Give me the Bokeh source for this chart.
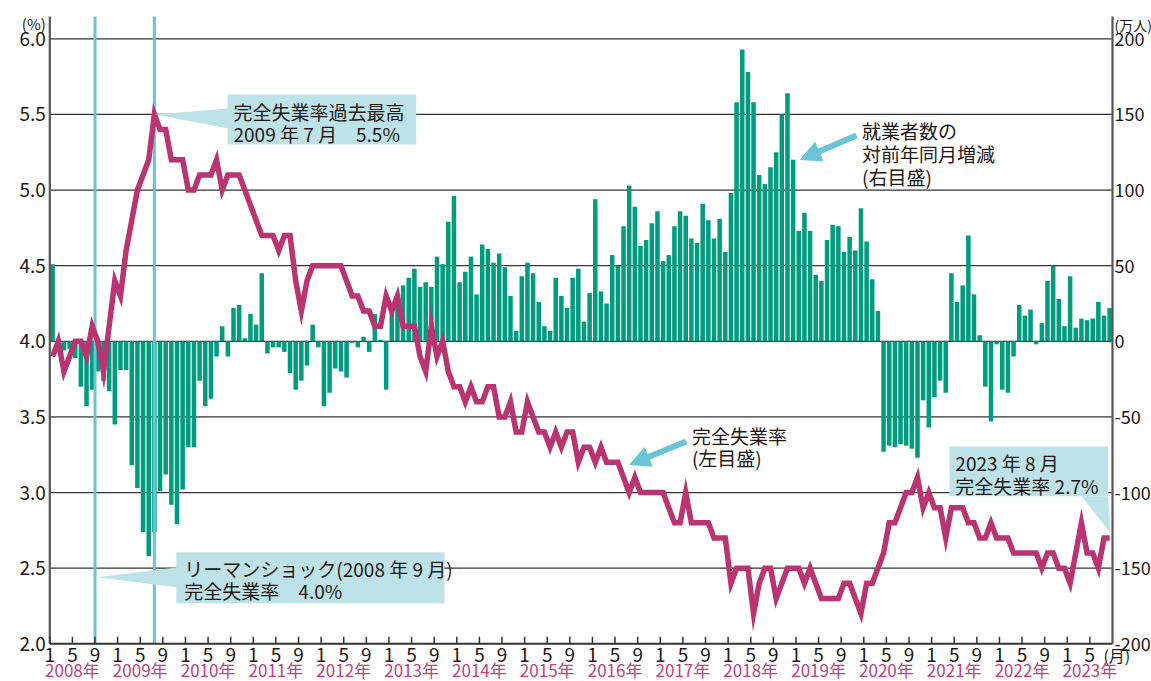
import numpy as np
from bokeh.plotting import figure
from bokeh.models import (Range1d, Label, Arrow, NormalHead, BoxAnnotation, PolyAnnotation)
from bokeh.core.properties import value
from bokeh.embed import file_html
from bokeh.resources import INLINE

# ---------------- data (Jan 2008 .. Aug 2023, monthly) ----------------
years = list(range(2008, 2024))
month_tick_labels = ["1", "5", "9"]
left_ticks = [2.0, 2.5, 3.0, 3.5, 4.0, 4.5, 5.0, 5.5, 6.0]
left_tick_labels = ["2.0", "2.5", "3.0", "3.5", "4.0", "4.5", "5.0", "5.5", "6.0"]
right_ticks = [-200, -150, -100, -50, 0, 50, 100, 150, 200]
right_tick_labels = ["-200", "-150", "-100", "-50", "0", "50", "100", "150", "200"]

# 完全失業率 (%)
unemployment_rate = [
    3.9, 4.0, 3.8, 3.9, 4.0, 4.0, 3.9, 4.1, 4.0, 3.8, 4.1, 4.4,   # 2008
    4.3, 4.6, 4.8, 5.0, 5.1, 5.2, 5.5, 5.4, 5.4, 5.2, 5.2, 5.2,   # 2009
    5.0, 5.0, 5.1, 5.1, 5.1, 5.2, 5.0, 5.1, 5.1, 5.1, 5.0, 4.9,   # 2010
    4.8, 4.7, 4.7, 4.7, 4.6, 4.7, 4.7, 4.4, 4.2, 4.4, 4.5, 4.5,   # 2011
    4.5, 4.5, 4.5, 4.5, 4.4, 4.3, 4.3, 4.2, 4.2, 4.1, 4.1, 4.3,   # 2012
    4.2, 4.3, 4.1, 4.1, 4.1, 3.9, 3.8, 4.1, 3.9, 4.0, 3.8, 3.7,   # 2013
    3.7, 3.6, 3.7, 3.6, 3.6, 3.7, 3.7, 3.5, 3.5, 3.6, 3.4, 3.4,   # 2014
    3.6, 3.5, 3.4, 3.4, 3.3, 3.4, 3.3, 3.4, 3.4, 3.2, 3.3, 3.3,   # 2015
    3.2, 3.3, 3.2, 3.2, 3.2, 3.1, 3.0, 3.1, 3.0, 3.0, 3.0, 3.0,   # 2016
    3.0, 2.9, 2.8, 2.8, 3.0, 2.8, 2.8, 2.8, 2.8, 2.7, 2.7, 2.7,   # 2017
    2.4, 2.5, 2.5, 2.5, 2.2, 2.4, 2.5, 2.5, 2.3, 2.4, 2.5, 2.5,   # 2018
    2.5, 2.4, 2.5, 2.4, 2.3, 2.3, 2.3, 2.3, 2.4, 2.4, 2.3, 2.2,   # 2019
    2.4, 2.4, 2.5, 2.6, 2.8, 2.8, 2.9, 3.0, 3.0, 3.1, 2.9, 3.0,   # 2020
    2.9, 2.9, 2.7, 2.9, 2.9, 2.9, 2.8, 2.8, 2.7, 2.7, 2.8, 2.7,   # 2021
    2.7, 2.7, 2.6, 2.6, 2.6, 2.6, 2.6, 2.5, 2.6, 2.6, 2.5, 2.5,   # 2022
    2.4, 2.6, 2.8, 2.6, 2.6, 2.5, 2.7, 2.7,                       # 2023
]

# 就業者数の対前年同月増減 (万人)
employment_change = [
    51, -3, -6, -5, -11, -30, -43, -32, -20, -26, -33, -55,          # 2008
    -19, -19, -82, -97, -126, -142, -126, -99, -88, -108, -121, -98, # 2009
    -70, -70, -26, -43, -38, -10, 10, -10, 22, 24, 2, 18,            # 2010
    11, 45, -8, -4, -4, -7, -21, -32, -26, -16, 11, -4,              # 2011
    -43, -34, -18, -20, -24, -1, -4, 3, -7, 18, 1, -32,              # 2012
    21, 24, 37, 42, 48, 36, 39, 36, 56, 51, 79, 96,                  # 2013
    39, 46, 56, 31, 64, 61, 52, 58, 49, 30, 7, 43,                   # 2014
    52, 45, 26, 10, 7, 42, 30, 22, 42, 48, 13, 32,                   # 2015
    94, 33, 25, 57, 50, 76, 103, 89, 63, 67, 78, 86,                 # 2016
    53, 57, 76, 86, 83, 68, 65, 91, 80, 68, 81, 59,                  # 2017
    98, 158, 193, 178, 158, 110, 104, 115, 125, 150, 164, 120,       # 2018
    73, 85, 73, 44, 40, 67, 77, 76, 59, 69, 60, 88,                  # 2019
    66, 41, 20, -73, -69, -70, -68, -69, -71, -77, -39, -57,         # 2020
    -37, -26, -34, 45, 26, 37, 70, 31, 4, -30, -53, -2,              # 2021
    -32, -34, -10, 24, 17, 21, -2, 12, 40, 50, 28, 10,               # 2022
    43, 9, 15, 14, 15, 26, 17, 22,                                   # 2023
]

lehman_month = 8          # 2008年9月 (index)

# ---------------- styling / layout ----------------
FONT = "Noto Sans CJK JP"
TEAL = "#009c7e"
PINK = "#b93470"
CYAN = "#68c4d6"
BOX = "#bde2e8"
YEAR_PINK = "#c1427c"
TEXT = "#231815"
AXIS = "#555555"

W, H = 1151, 681
n = len(unemployment_rate)
x = np.arange(n) + 0.5

# plot-area placement inside the canvas (pixels)
LEFT_PX, RIGHT_PX = 49.3, 1112.0
Y_BOTTOM_PX, Y_TOP_PX = 643.3, 38.3          # where 2.0 and 6.0 sit
SX = (RIGHT_PX - LEFT_PX) / n
SY = (Y_BOTTOM_PX - Y_TOP_PX) / 4.0
Y0, YTOP = 2.0, 2.0 + (Y_BOTTOM_PX - 16) / SY  # axis lines reach up to y=16px

x_lo, x_hi = -LEFT_PX / SX, (W - LEFT_PX) / SX
y_lo, y_hi = Y0 - (H - Y_BOTTOM_PX) / SY, Y0 + Y_BOTTOM_PX / SY

p = figure(width=W, height=H, output_backend="svg", toolbar_location=None,
           x_range=Range1d(x_lo, x_hi), y_range=Range1d(y_lo, y_hi),
           x_axis_type=None, y_axis_type=None,
           min_border_left=0, min_border_right=0, min_border_top=0, min_border_bottom=0)
p.outline_line_color = None
p.background_fill_color = "white"
p.border_fill_color = "white"
p.xgrid.visible = False
p.ygrid.visible = False
# right scale: 1 unit on the left (%) = 100 on the right (万人), 4.0% <-> 0
p.extra_y_ranges = {"right": Range1d((y_lo - 4.0) * 100, (y_hi - 4.0) * 100)}

# ---- grid lines ----
g = left_ticks[1:]
p.segment(x0=[0] * len(g), y0=g, x1=[n] * len(g), y1=g, line_color="#333333", line_width=1.2)

# ---- bars ----
p.vbar(x=x, top=employment_change, bottom=0, width=0.8, y_range_name="right",
       fill_color=TEAL, line_color=None)

# ---- vertical marker lines ----
peak_i = int(np.argmax(unemployment_rate))
p.segment(x0=[lehman_month, peak_i + 0.5], y0=[Y0, Y0], x1=[lehman_month, peak_i + 0.5],
          y1=[YTOP, YTOP], line_color=CYAN, line_width=3)

# ---- unemployment line ----
p.line(x, unemployment_rate, line_color=PINK, line_width=5.5, line_join="miter")

# ---- axes (lines, ticks, labels) ----
p.segment(x0=[0, n], y0=[Y0, Y0], x1=[0, n], y1=[YTOP, YTOP], line_color=AXIS, line_width=2.2)
p.segment(x0=[0], y0=[Y0], x1=[n], y1=[Y0], line_color="#333333", line_width=2)
xt = list(range(0, n, 4))
p.segment(x0=xt, y0=[Y0] * len(xt), x1=xt, y1=[Y0 + 7 / SY] * len(xt),
          line_color="#333333", line_width=1.5)


def texts(xs, ys, labels, size, align, color=TEXT, x_offset=0, **kw):
    p.text(x=xs, y=ys, text=labels, text_font=value(FONT), text_font_size=value(size),
           text_align=align, text_baseline="middle", text_color=color,
           x_offset=x_offset, **kw)


texts([0] * len(left_ticks), left_ticks, left_tick_labels, "19px", "right", x_offset=-4)
texts([n] * len(right_ticks), right_ticks, right_tick_labels, "18px", "left", x_offset=2,
      y_range_name="right")
month_y = Y0 - 10.7 / SY
texts(xt, [month_y] * len(xt), [month_tick_labels[(t // 4) % 3] for t in xt], "19px", "center")
texts([186.4], [month_y], ["(月)"], "16px", "left")
year_y = Y0 - 25.7 / SY
texts([12 * k + 4 for k in range(len(years))], [year_y] * len(years),
      [f"{yr}年" for yr in years], "17px", "center", color=YEAR_PINK)
texts([0], [6.101], ["(%)"], "15px", "right", x_offset=-4)
texts([n], [6.094], ["(万人)"], "14px", "left", x_offset=2)


# ---------- callouts ----------
def box(l, r, t, b):
    p.add_layout(BoxAnnotation(left=l, right=r, top=t, bottom=b, fill_color=BOX,
                               fill_alpha=1, line_color=None))


def tri(xs, ys):
    p.add_layout(PolyAnnotation(xs=xs, ys=ys, fill_color=BOX, fill_alpha=1, line_color=None))


def label(xv, yv, s, size="19px"):
    p.add_layout(Label(x=xv, y=yv, text=s, text_font=FONT, text_font_size=size,
                       text_color=TEXT, text_align="left", text_baseline="middle"))


# 過去最高
box(31.44, 64.82, 5.632, 5.301)
tri([peak_i + 0.6, 31.6, 31.6], [unemployment_rate[peak_i], 5.539, 5.407])
label(32.5, 5.522, "完全失業率過去最高")
label(32.5, 5.372, "2009 年 7 月　5.5%")

# リーマンショック
box(22.36, 69.83, 2.606, 2.268)
tri([lehman_month + 0.3, 22.5, 22.5], [2.44, 2.505, 2.374])
label(23.8, 2.496, "リーマンショック(2008 年 9 月)")
label(23.8, 2.351, "完全失業率　4.0%")

# 2023年8月
box(159.16, 187.24, 3.304, 2.976)
tri([182.5, 187.24, n - 0.4], [2.976, 2.976, unemployment_rate[-1] + 0.035])
label(160.2, 3.198, "2023 年 8 月")
label(160.2, 3.045, "完全失業率 2.7%")

# arrows + labels
p.add_layout(Arrow(end=NormalHead(size=20, fill_color=CYAN, line_color=CYAN),
                   x_start=142.7, y_start=5.361, x_end=132.8, y_end=5.202,
                   line_color=CYAN, line_width=6))
label(143.7, 5.392, "就業者数の")
label(143.7, 5.240, "対前年同月増減")
label(143.7, 5.088, "(右目盛)")

p.add_layout(Arrow(end=NormalHead(size=20, fill_color=CYAN, line_color=CYAN),
                   x_start=112.6, y_start=3.338, x_end=102.6, y_end=3.185,
                   line_color=CYAN, line_width=6))
label(113.6, 3.375, "完全失業率")
label(113.6, 3.232, "(左目盛)")

open("out.html", "w").write(file_html(p, INLINE))
